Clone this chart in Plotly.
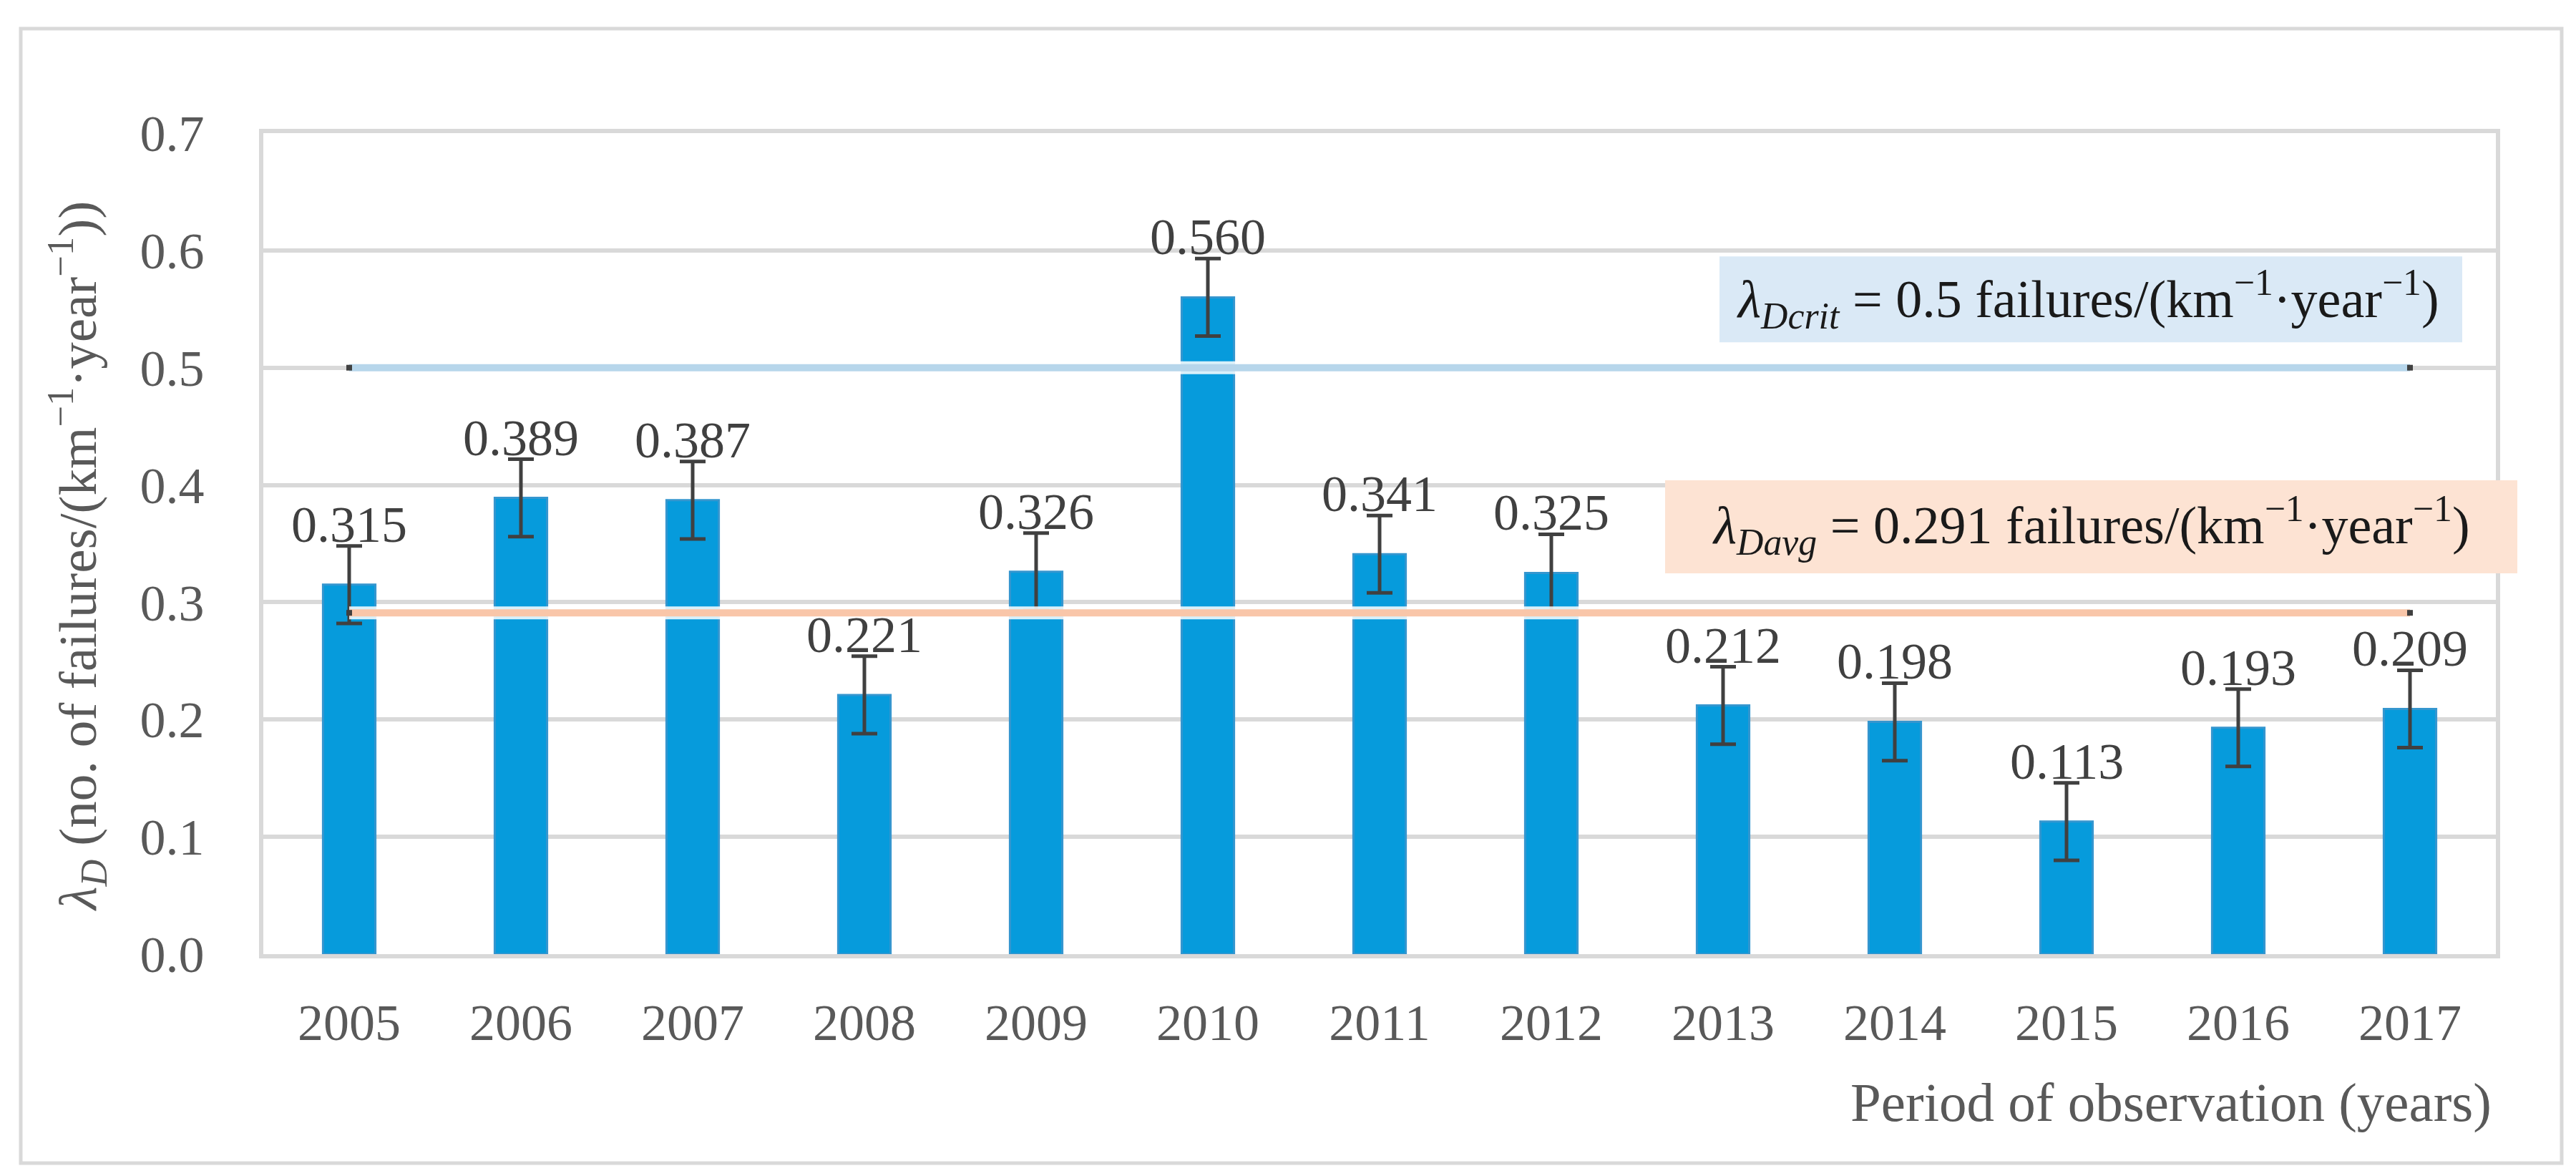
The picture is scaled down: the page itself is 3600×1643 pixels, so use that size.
import plotly.graph_objects as go

years = [2005, 2006, 2007, 2008, 2009, 2010, 2011, 2012, 2013, 2014, 2015, 2016, 2017]
year_labels = ["2005", "2006", "2007", "2008", "2009", "2010", "2011", "2012", "2013", "2014", "2015", "2016", "2017"]
lambda_d = [0.315, 0.389, 0.387, 0.221, 0.326, 0.560, 0.341, 0.325, 0.212, 0.198, 0.113, 0.193, 0.209]
err = [0.033, 0.033, 0.033, 0.033, 0.033, 0.033, 0.033, 0.033, 0.033, 0.033, 0.033, 0.033, 0.033]
crit_value = 0.5
avg_value = 0.291
y_ticks = [0.0, 0.1, 0.2, 0.3, 0.4, 0.5, 0.6, 0.7]
y_tick_labels = ["0.0", "0.1", "0.2", "0.3", "0.4", "0.5", "0.6", "0.7"]

FONT = "Liberation Serif"
W, H = 3600, 1643
L, R, T, B = 360, 120, 178, 318
pw = W - L - R
ph = H - T - B

fig = go.Figure()

fig.add_trace(go.Bar(
    x=years, y=lambda_d, width=0.305,
    marker=dict(color="#069bdc", line=dict(color="#3596cf", width=3)),
    error_y=dict(type="data", array=err, visible=True, color="#404040", thickness=5, width=18),
    showlegend=False, hoverinfo="skip",
))

line_x = [years[0], years[-1]]
for val, col in [(crit_value, "#b7d6eb"), (avg_value, "#f9c6a9")]:
    fig.add_trace(go.Scatter(x=line_x, y=[val, val], mode="lines",
                             line=dict(color="rgba(255,255,255,0.85)", width=18),
                             showlegend=False, hoverinfo="skip"))
    fig.add_trace(go.Scatter(x=line_x, y=[val, val], mode="lines",
                             line=dict(color=col, width=10),
                             showlegend=False, hoverinfo="skip"))
    fig.add_trace(go.Scatter(x=line_x, y=[val, val], mode="markers",
                             marker=dict(symbol="square", size=8, color="#404040"),
                             showlegend=False, hoverinfo="skip"))

annotations = []
for yr, v, e in zip(years, lambda_d, err):
    annotations.append(dict(x=yr, y=v + e, xref="x", yref="y", text=f"{v:.3f}",
                            showarrow=False, yanchor="bottom", yshift=-12,
                            font=dict(family=FONT, size=72, color="#404040")))

# y axis title
annotations.append(dict(
    x=(100 - L) / pw, y=(1325 - 769) / ph, xref="paper", yref="paper",
    text="<i>λ<sub>D</sub></i> (no. of failures/(km<sup>−1</sup>·year<sup>−1</sup>))",
    textangle=-90, showarrow=False, xanchor="center", yanchor="middle",
    font=dict(family=FONT, size=75, color="#595959")))

# x axis title
annotations.append(dict(
    x=(3476 - L) / pw, y=(1325 - 1532) / ph, xref="paper", yref="paper",
    text="Period of observation (years)", showarrow=False,
    xanchor="right", yanchor="middle",
    font=dict(family=FONT, size=77, color="#595959")))

# boxes' texts
annotations.append(dict(
    x=(2910 - L) / pw, y=0.5583, xref="paper", yref="y",
    text="<i>λ<sub>Dcrit</sub></i> = 0.5 failures/(km<sup>−1</sup>·year<sup>−1</sup>)",
    showarrow=False, xanchor="center", yanchor="middle",
    font=dict(family=FONT, size=74, color="#1a1a1a")))
annotations.append(dict(
    x=(2914 - L) / pw, y=0.3655, xref="paper", yref="y",
    text="<i>λ<sub>Davg</sub></i> = 0.291 failures/(km<sup>−1</sup>·year<sup>−1</sup>)",
    showarrow=False, xanchor="center", yanchor="middle",
    font=dict(family=FONT, size=74, color="#1a1a1a")))

shapes = [
    dict(type="rect", xref="paper", yref="paper",
         x0=(21 - L) / pw, x1=(3572 - L) / pw, y0=(1325 - 1617) / ph, y1=(1325 - 32) / ph,
         line=dict(color="#d9d9d9", width=5), fillcolor="rgba(0,0,0,0)", layer="below"),
    dict(type="rect", xref="paper", yref="y",
         x0=(2395 - L) / pw, x1=(3433 - L) / pw, y0=0.5217, y1=0.5949,
         line=dict(width=0), fillcolor="#dae9f6", layer="above"),
    dict(type="rect", xref="paper", yref="y",
         x0=(2319 - L) / pw, x1=(3510 - L) / pw, y0=0.3246, y1=0.4040,
         line=dict(width=0), fillcolor="#fde3d3", layer="above"),
]

fig.update_layout(
    width=W, height=H,
    margin=dict(l=L, r=R, t=T, b=B),
    paper_bgcolor="white", plot_bgcolor="white",
    showlegend=False,
    annotations=annotations,
    shapes=shapes,
    font=dict(family=FONT, size=72, color="#595959"),
)
fig.update_xaxes(range=[2004.5, 2017.5], tickvals=years, ticktext=year_labels,
                 showgrid=False, showline=True, linecolor="#d9d9d9",
                 linewidth=6, mirror=True, ticks="", ticklabelstandoff=28, zeroline=False,
                 tickfont=dict(family=FONT, size=72, color="#595959"))
fig.update_yaxes(range=[0, 0.7], tickvals=y_ticks, ticktext=y_tick_labels,
                 showgrid=True, gridcolor="#d9d9d9", gridwidth=6,
                 showline=True, linecolor="#d9d9d9", linewidth=6, mirror=True,
                 zeroline=False, ticks="", ticklabelstandoff=62,
                 tickfont=dict(family=FONT, size=72, color="#595959"))

fig.write_html("out.html")
